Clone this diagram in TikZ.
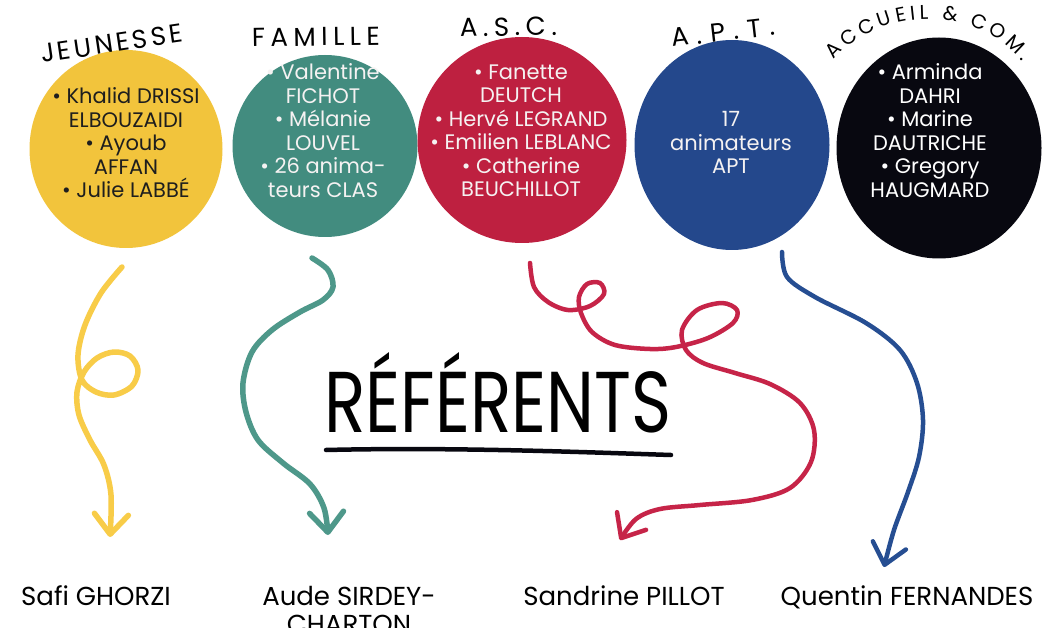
\documentclass[tikz,border=0pt]{standalone}
\usepackage{fontspec}
\setmainfont{Poppins}
\usetikzlibrary{arrows.meta,decorations.text,shapes.geometric}
\definecolor{cyel}{RGB}{242,196,60}
\definecolor{cteal}{RGB}{66,140,127}
\definecolor{cred}{RGB}{190,32,64}
\definecolor{cblue}{RGB}{36,72,140}
\definecolor{cblk}{RGB}{8,8,16}
\definecolor{ayel}{RGB}{248,204,72}
\definecolor{ateal}{RGB}{78,152,138}
\definecolor{ared}{RGB}{198,36,72}
\definecolor{ablue}{RGB}{38,78,146}
\definecolor{tdark}{RGB}{30,30,30}
\definecolor{tlight}{RGB}{245,242,242}
\newcommand{\hdrfont}{\fontsize{26}{26}\selectfont}
\newcommand{\hdrsmall}{\fontsize{20}{20}\selectfont}
\begin{document}
\begin{tikzpicture}[x=1pt,y=-1pt,
  blob/.style={ellipse, inner sep=0pt, draw=none},
  members/.style={align=center, font=\fontsize{21}{23.5}\selectfont, inner sep=0pt},
  refname/.style={font=\fontsize{26}{28}\selectfont, anchor=base, align=center, inner sep=0pt},
  hdr/.style={decorate, decoration={text along path, text align={fit to path}, text={|\hdrfont|#1}}},
  hdrs/.style={decorate, decoration={text along path, text align={fit to path}, text={|\hdrsmall|#1}}},
  conn/.style={line cap=round, line join=round, -{Straight Barb[length=20pt,width=34pt,round]}},
]
\fill[white] (0,0) rectangle (1049,628);
\useasboundingbox (0,0) rectangle (1049,628);
\clip (0,0) rectangle (1049,628);

% blobs
\node[blob, fill=cyel, minimum width=193pt, minimum height=198pt] (jeu) at (126,149) {};
\node[blob, fill=cteal, minimum width=185pt, minimum height=182pt] (fam) at (325,146) {};
\node[blob, fill=cred, minimum width=209pt, minimum height=206pt] (asc) at (522,140) {};
\node[blob, fill=cblue, minimum width=195pt, minimum height=210pt] (apt) at (732,145) {};
\node[blob, fill=cblk, minimum width=205pt, minimum height=221pt] (acc) at (939,148) {};

% members
\node[members, text=tdark] (tjeu) at (126,143) {• Khalid DRISSI\\ELBOUZAIDI\\• Ayoub\\AFFAN\\• Julie LABBÉ};
\node[members, text=tlight] (tfam) at (323,130.5) {• Valentine\\FICHOT\\• Mélanie\\LOUVEL\\• 26 anima-\\teurs CLAS};
\node[members, text=tlight] (tasc) at (521,131) {• Fanette\\DEUTCH\\• Hervé LEGRAND\\• Emilien LEBLANC\\• Catherine\\BEUCHILLOT};
\node[members, text=tlight] (tapt) at (731,142.5) {17\\animateurs\\APT};
\node[members, text=white] (tacc) at (930,130.5) {• Arminda\\DAHRI\\• Marine\\DAUTRICHE\\• Gregory\\HAUGMARD};

% headers
\path[hdr={JEUNESSE}] (42,63) -- (184,42);
\path[hdr={FAMILLE}] (252,47) -- (380,45);
\path[hdr={A.S.C.}] (460,37) -- (557,35);
\path[hdr={A.P.T.}] (672,47) -- (776,35);
\path[hdrs={ACCUEIL {\&} COM.}] (834,60) .. controls (880,5) and (980,5) .. (1022,62);

% title
\node[anchor=base, inner sep=0pt] (ref) at (498,432) {\resizebox{347pt}{80pt}{RÉFÉRENTS}};
\coordinate (ul1) at (326,450);
\coordinate (ul2) at (671,455);
\draw[line width=4.5pt, line cap=round, cblk] (ul1) .. controls (450,447) and (580,452) .. (ul2);

% names
\node[refname] (nj) at (96,605) {Safi GHORZI};
\node[refname] (nf) at (349,633) {Aude SIRDEY-\\CHARTON};
\node[refname] (na) at (624,605) {Sandrine PILLOT};
\node[refname] (nq) at (907,605) {Quentin FERNANDES};

% connectors
\coordinate (yj1) at (122,267); \coordinate (yj2) at (110,537);
\coordinate (tf1) at (312,258); \coordinate (tf2) at (328,535);
\coordinate (ra1) at (530,263); \coordinate (ra2) at (620,540);
\coordinate (bq1) at (782,252); \coordinate (bq2) at (884,567);

\draw[conn, ayel, line width=5.5pt] plot[smooth, tension=0.55] coordinates {(yj1) (101,293) (85,325) (78,355) (82,380) (96,392) (114,395) (132,386) (138,370) (130,356) (114,352) (97,358) (84,372) (77,392) (79,415) (90,440) (104,465) (111,495) (yj2)};
\draw[conn, ateal, line width=5.5pt] plot[smooth, tension=0.55] coordinates {(tf1) (328,270) (333,287) (323,300) (300,312) (272,330) (252,352) (243,383) (246,412) (258,440) (283,463) (310,484) (324,508) (tf2)};
\draw[conn, ared, line width=4.5pt] plot[smooth, tension=0.55] coordinates {(ra1) (534,287) (548,302) (568,310) (590,306) (604,294) (600,283) (587,284) (579,297) (581,313) (592,332) (615,345) (650,349) (676,347) (708,338) (733,323) (737,310) (722,303) (697,310) (682,330) (686,350) (703,363) (735,373) (770,384) (800,403) (814,430) (811,462) (790,488) (752,500) (700,505) (660,509) (636,519) (ra2)};
\draw[conn, ablue, line width=4.5pt] plot[smooth, tension=0.55] coordinates {(bq1) (787,277) (815,297) (866,323) (900,350) (917,383) (923,420) (919,457) (908,492) (894,530) (bq2)};
\end{tikzpicture}
\end{document}
